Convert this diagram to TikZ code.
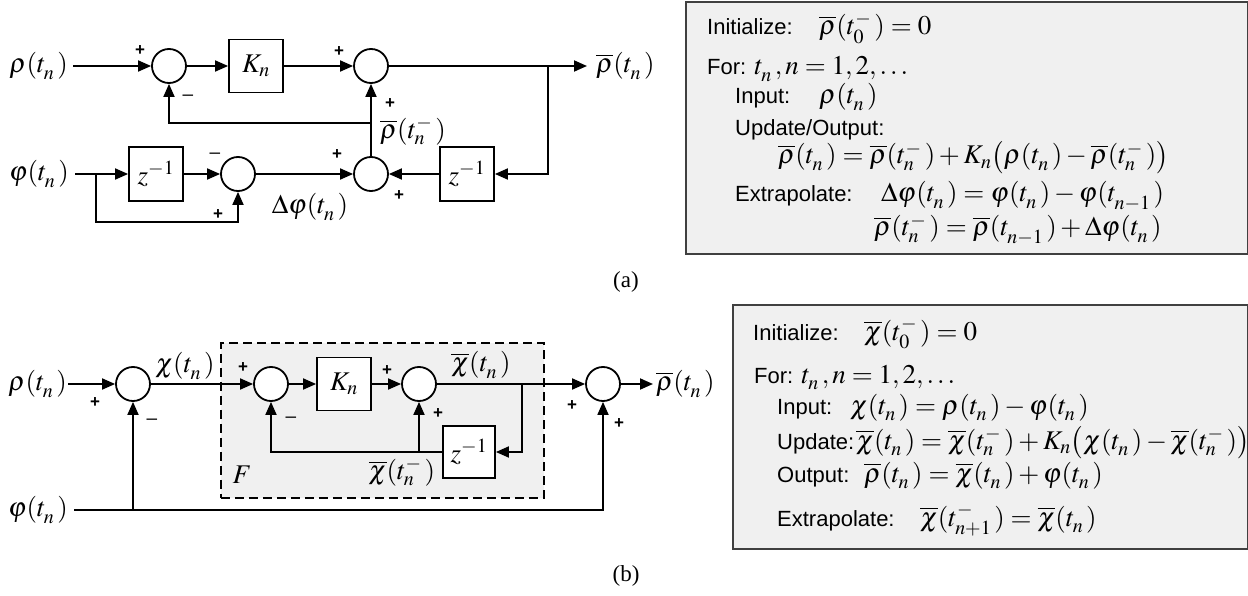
\documentclass[tikz,border=0pt]{standalone}
\usepackage{mathptmx}
\usepackage[no-math]{fontspec}
\setmainfont{Liberation Serif}
\setsansfont{Liberation Sans}
\usetikzlibrary{arrows.meta}
\definecolor{boxfill}{HTML}{F0F0F0}
\definecolor{boxline}{HTML}{404040}
\newcommand{\rb}{\overline{\rho}}
\newcommand{\cb}{\overline{\chi}}
\newcommand{\ts}[2]{t^{#2}_{#1}\mkern2mu}
\newcommand{\mymath}[1]{{\fontsize{27}{32}\selectfont$#1$}}
\begin{document}
\begin{tikzpicture}[x=1pt,y=-1pt,
  wire/.style={line width=1.8pt},
  arr/.style={wire,-{Triangle[length=13pt,width=11pt]}},
  sumnode/.style={circle,draw,line width=1.8pt,fill=white,minimum size=34pt,inner sep=0pt},
  blk/.style={draw,fill=white,line width=1.8pt,minimum width=54pt,minimum height=54pt,inner sep=0pt,font=\fontsize{27}{32}\selectfont},
  lbl/.style={inner sep=0pt,font=\fontsize{27}{32}\selectfont},
  sgn/.style={inner sep=0pt,font=\sffamily\bfseries\fontsize{17}{20}\selectfont},
  mns/.style={inner sep=0pt,font=\sffamily\fontsize{19}{20}\selectfont},
  captxt/.style={inner sep=0pt,font=\fontsize{23}{28}\selectfont},
  txt/.style={inner sep=0pt,anchor=base west,font=\sffamily\fontsize{22}{26}\selectfont},
  infobox/.style={draw=boxline,fill=boxfill,line width=1.6pt,anchor=north west,inner sep=0pt},
  fbox/.style={draw,fill=boxfill,line width=1.8pt,dash pattern=on 9pt off 5pt,anchor=north west,inner sep=0pt}
]
\useasboundingbox (0,0) rectangle (1248,596);

% ---------------- info boxes ----------------
\node[infobox,minimum width=562pt,minimum height=252pt] (boxA) at (685,1) {};
\node[infobox,minimum width=515pt,minimum height=244pt] (boxB) at (732,304) {};

\node[txt] (a1) at (707,35) {Initialize:};
\node[txt] (a1m) at (819,35) {\mymath{\rb(\ts0-)=0}};
\node[txt] (a2) at (707,75) {For: \mymath{\ts n{}, n=1,2,\ldots}};
\node[txt] (a3) at (735,104) {Input:};
\node[txt] (a3m) at (819,104) {\mymath{\rho(\ts n{})}};
\node[txt] (a4) at (735,136) {Update/Output:};
\node[txt] (a5) at (778,164) {\mymath{\rb(\ts n{})=\rb(\ts n-)+K_n\bigl(\rho(\ts n{})-\rb(\ts n-)\bigr)}};
\node[txt] (a6) at (735,202) {Extrapolate:};
\node[txt] (a6m) at (881,202) {\mymath{\Delta\varphi(\ts n{})=\varphi(\ts n{})-\varphi(\ts{n-1}{})}};
\node[txt] (a7m) at (874,236) {\mymath{\rb(\ts n-)=\rb(\ts{n-1}{})+\Delta\varphi(\ts n{})}};

\node[txt] (b1) at (753,340) {Initialize:};
\node[txt] (b1m) at (864,340) {\mymath{\cb(\ts0-)=0}};
\node[txt] (b2) at (754,383) {For: \mymath{\ts n{}, n=1,2,\ldots}};
\node[txt] (b3) at (777,414) {Input:};
\node[txt] (b3m) at (850,414) {\mymath{\chi(\ts n{})=\rho(\ts n{})-\varphi(\ts n{})}};
\node[txt] (b4) at (777,449) {Update:\hspace{2pt}\mymath{\cb(\ts n{})=\cb(\ts n-)+K_n\bigl(\chi(\ts n{})-\cb(\ts n-)\bigr)}};
\node[txt] (b5) at (777,482) {Output:};
\node[txt] (b5m) at (864,482) {\mymath{\rb(\ts n{})=\cb(\ts n{})+\varphi(\ts n{})}};
\node[txt] (b6) at (777,526) {Extrapolate:};
\node[txt] (b6m) at (920,526) {\mymath{\cb(\ts{n+1}-)=\cb(\ts n{})}};

\node[captxt] (capA) at (626,282) {(a)};
\node[captxt] (capB) at (626,576) {(b)};

% ---------------- diagram (a) ----------------
\node[lbl,anchor=east,inner xsep=5pt] (rhoA) at (73,66) {$\rho(\ts n{})$};
\node[sumnode] (s1) at (169,66) {};
\node[blk,minimum height=53pt] (K1) at (256,66) {$K_n$};
\node[sumnode] (s2) at (371,66) {};
\node[lbl,anchor=west,inner xsep=9pt] (outA) at (587,66) {$\rb(\ts n{})$};
\coordinate (b1c) at (548,66);
\node[blk] (z2) at (467,174) {$z^{-1}$};
\node[sumnode] (s4) at (371,174) {};
\coordinate (j1) at (371,123);
\node[lbl,anchor=east,inner xsep=6pt] (phiA) at (75,174) {$\varphi(\ts n{})$};
\node[blk] (z1) at (156,174) {$z^{-1}$};
\node[sumnode] (s3) at (238,174) {};
\coordinate (b2c) at (96,174);

\draw[arr] (rhoA.east) -- (s1);
\draw[arr] (s1) -- (K1);
\draw[arr] (K1) -- (s2);
\draw[arr] (s2) -- (outA.west);
\draw[arr] (b1c) |- (z2.east);
\draw[arr] (z2) -- (s4);
\draw[arr] (s4) -- (s2);
\draw[arr] (j1) -| (s1.south);
\draw[arr] (phiA.east) -- (z1);
\draw[arr] (z1) -- (s3);
\draw[arr] (b2c) |- (238,222) -- (s3.south);
\draw[arr] (s3) -- (s4);

\node[sgn] (pa1) at (140,51) {+};
\node[mns] (ma1) at (188,98) {–};
\node[sgn] (pa2) at (339,52) {+};
\node[sgn] (pa3) at (390,104) {+};
\node[lbl] (rbm) at (413,131) {$\rb(\ts n-)$};
\node[sgn] (pa4) at (337,155) {+};
\node[sgn] (pa5) at (399,196) {+};
\node[mns] (ma2) at (215,156) {–};
\node[sgn] (pa6) at (218,215) {+};
\node[lbl] (dphi) at (310,207) {$\Delta\varphi(\ts n{})$};

% ---------------- diagram (b) ----------------
\node[fbox,minimum width=323pt,minimum height=155pt] (F) at (220,342) {};
\node[lbl] (Flab) at (242,475) {$F$};
\node[lbl,anchor=east,inner xsep=1pt] (rhoB) at (68,384) {$\rho(\ts n{})$};
\node[sumnode] (s5) at (133,384) {};
\node[sumnode] (s6) at (271,384) {};
\node[blk,minimum height=53pt] (K2) at (344,384) {$K_n$};
\node[sumnode] (s7) at (419,384) {};
\coordinate (b3c) at (522,384);
\node[blk,minimum width=52pt,minimum height=52pt] (z3) at (469,452) {$z^{-1}$};
\coordinate (j2) at (419,452);
\node[sumnode] (s8) at (603,384) {};
\node[lbl,anchor=west,inner xsep=3pt] (outB) at (653,384) {$\rb(\ts n{})$};
\node[lbl,anchor=east,inner xsep=6pt] (phiB) at (74,510) {$\varphi(\ts n{})$};
\coordinate (j3) at (133,510);

\draw[arr] (rhoB.east) -- (s5);
\draw[arr] (s5) -- (s6);
\draw[arr] (s6) -- (K2);
\draw[arr] (K2) -- (s7);
\draw[arr] (s7) -- (s8);
\draw[arr] (b3c) |- (z3.east);
\draw[arr] (z3.west) -| (s6.south);
\draw[arr] (j2) -- (s7);
\draw[arr] (s8) -- (outB.west);
\draw[arr] (phiB.east) -| (s8.south);
\draw[arr] (j3) -- (s5);

\node[lbl] (chi) at (185,366) {$\chi(\ts n{})$};
\node[lbl] (chib) at (481,365) {$\cb(\ts n{})$};
\node[lbl] (chibm) at (402,472) {$\cb(\ts n-)$};
\node[sgn] (pb1) at (95,403) {+};
\node[mns] (mb1) at (152,422) {–};
\node[sgn] (pb2) at (243,368) {+};
\node[mns] (mb2) at (291,420) {–};
\node[sgn] (pb3) at (387,371) {+};
\node[sgn] (pb4) at (438,414) {+};
\node[sgn] (pb5) at (572,406) {+};
\node[sgn] (pb6) at (619,424) {+};
\end{tikzpicture}
\end{document}
